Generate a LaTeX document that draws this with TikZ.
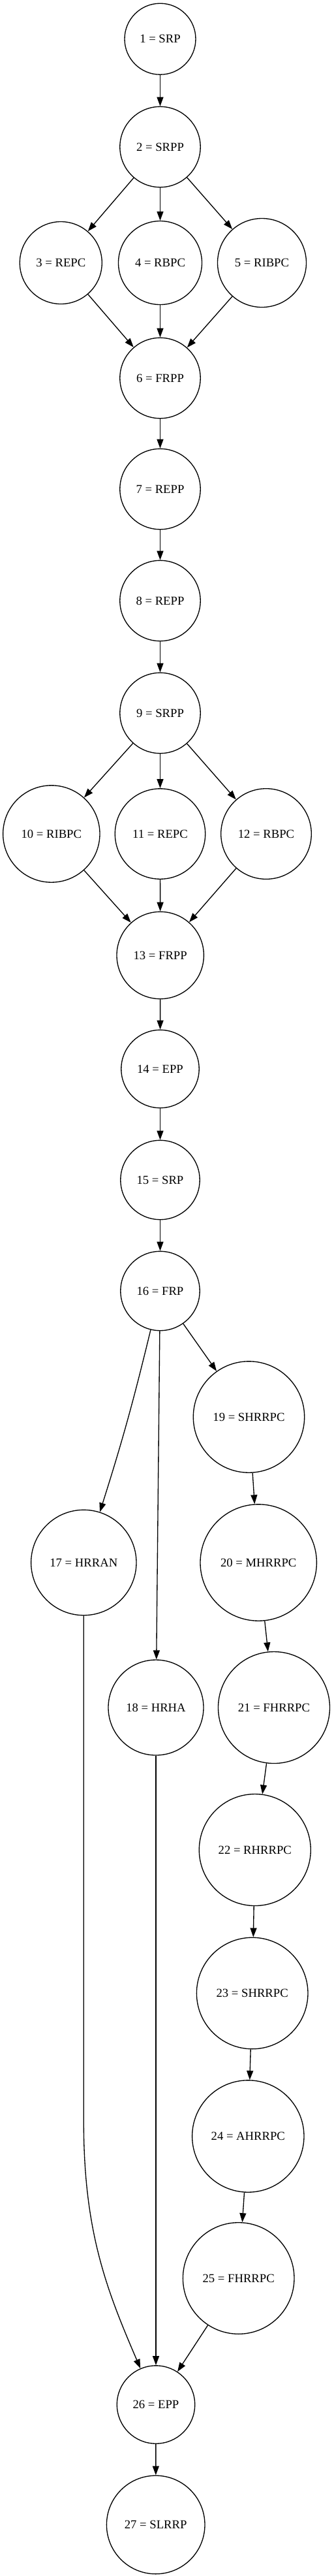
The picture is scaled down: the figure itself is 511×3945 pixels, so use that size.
\documentclass[tikz,border=0pt]{standalone}
\usepackage{fontspec}
\setmainfont{Liberation Serif}
\usetikzlibrary{arrows.meta}
\tikzset{
  nd/.style={circle,draw,line width=1pt,inner sep=0pt,font=\fontsize{14}{16}\selectfont},
  edge/.style={line width=1pt,-{Triangle[length=10.5pt,width=7.5pt]}}
}
\begin{document}
\begin{tikzpicture}[x=0.75pt,y=-0.75pt]
\useasboundingbox (0,0) rectangle (511,3945);
\node[nd,minimum size=81.75pt] (n1) at (245.5,59.7) {1 = SRP};
\node[nd,minimum size=92.55pt] (n2) at (245.5,225) {2 = SRPP};
\node[nd,minimum size=94.5pt] (n3) at (93.3,402.5) {3 = REPC};
\node[nd,minimum size=96pt] (n4) at (245.5,402.5) {4 = RBPC};
\node[nd,minimum size=102pt] (n5) at (401.5,402.5) {5 = RIBPC};
\node[nd,minimum size=92.55pt] (n6) at (245.5,579) {6 = FRPP};
\node[nd,minimum size=92.55pt] (n7) at (245.5,749) {7 = REPP};
\node[nd,minimum size=92.55pt] (n8) at (245.5,920) {8 = REPP};
\node[nd,minimum size=92.55pt] (n9) at (245.5,1092) {9 = SRPP};
\node[nd,minimum size=111.3pt] (n10) at (78.8,1277) {10 = RIBPC};
\node[nd,minimum size=103.8pt] (n11) at (245.5,1277) {11 = REPC};
\node[nd,minimum size=103.95pt] (n12) at (408,1277) {12 = RBPC};
\node[nd,minimum size=100.05pt] (n13) at (245.7,1463) {13 = FRPP};
\node[nd,minimum size=89.55pt] (n14) at (245.5,1637) {14 = EPP};
\node[nd,minimum size=91.05pt] (n15) at (245.5,1807) {15 = SRP};
\node[nd,minimum size=91.05pt] (n16) at (245.5,1977) {16 = FRP};
\node[nd,minimum size=127.8pt] (n19) at (381.5,2170) {19 = SHRRPC};
\node[nd,minimum size=121.05pt] (n17) at (128.3,2393) {17 = HRRAN};
\node[nd,minimum size=133.8pt] (n20) at (396.2,2393) {20 = MHRRPC};
\node[nd,minimum size=109.5pt] (n18) at (239,2615) {18 = HRHA};
\node[nd,minimum size=128.25pt] (n21) at (420,2615) {21 = FHRRPC};
\node[nd,minimum size=128.25pt] (n22) at (390.8,2833) {22 = RHRRPC};
\node[nd,minimum size=127.95pt] (n23) at (386.7,3052.5) {23 = SHRRPC};
\node[nd,minimum size=128.55pt] (n24) at (380.3,3271.5) {24 = AHRRPC};
\node[nd,minimum size=127.95pt] (n25) at (365.7,3489) {25 = FHRRPC};
\node[nd,minimum size=89.55pt] (n26) at (239,3682.5) {26 = EPP};
\node[nd,minimum size=112.95pt] (n27) at (238.7,3866.5) {27 = SLRRP};
\coordinate (k17) at (128.3,3250);

\draw[edge] (n1) -- (n2);
\draw[edge] (n2) -- (n3);
\draw[edge] (n2) -- (n4);
\draw[edge] (n2) -- (n5);
\draw[edge] (n3) -- (n6);
\draw[edge] (n4) -- (n6);
\draw[edge] (n5) -- (n6);
\draw[edge] (n6) -- (n7);
\draw[edge] (n7) -- (n8);
\draw[edge] (n8) -- (n9);
\draw[edge] (n9) -- (n10);
\draw[edge] (n9) -- (n11);
\draw[edge] (n9) -- (n12);
\draw[edge] (n10) -- (n13);
\draw[edge] (n11) -- (n13);
\draw[edge] (n12) -- (n13);
\draw[edge] (n13) -- (n14);
\draw[edge] (n14) -- (n15);
\draw[edge] (n15) -- (n16);
\draw[edge] (n16) to[bend left=2] (n17);
\draw[edge] (n16) -- (n18);
\draw[edge] (n16) -- (n19);
\draw[edge] (n19) -- (n20);
\draw[edge] (n20) -- (n21);
\draw[edge] (n21) -- (n22);
\draw[edge] (n22) -- (n23);
\draw[edge] (n23) -- (n24);
\draw[edge] (n24) -- (n25);
\draw[edge] (n17) -- (k17) .. controls (128.3,3420) and (165,3510) .. (n26);
\draw[edge] (n18) -- (n26);
\draw[edge] (n25) -- (n26);
\draw[edge] (n26) -- (n27);
\end{tikzpicture}
\end{document}
